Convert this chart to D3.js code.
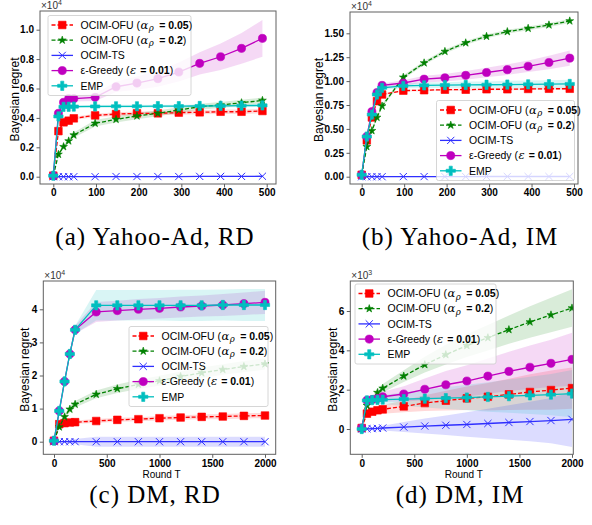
<!DOCTYPE html>
<html>
<head>
<meta charset="utf-8">
<script src="https://cdn.jsdelivr.net/npm/d3@7"></script>
<style>
body { margin: 0; background: #fff; }
text { font-family: "Liberation Sans", Arial, sans-serif; }
</style>
</head>
<body>
<script>
// marker x positions (rounds)
var xShort = [0, 12, 24, 36, 48, 98, 147, 196, 245, 294, 343, 392, 441, 490];
var xLong = [0, 50, 100, 150, 200, 400, 600, 800, 1000, 1200, 1400, 1600, 1800, 2000];

// (a) Yahoo-Ad, RD  (x1e4)
var aOfu05 = [0.007, 0.31, 0.37, 0.381, 0.397, 0.417, 0.426, 0.431, 0.431, 0.436, 0.438, 0.442, 0.442, 0.447];
var aOfu2 = [0.007, 0.152, 0.204, 0.243, 0.283, 0.363, 0.39, 0.413, 0.431, 0.453, 0.476, 0.488, 0.503, 0.519];
var aTs = [0.0, 0.0, 0.0, 0.0, 0.0, 0.0, 0.001, 0.001, 0.001, 0.001, 0.002, 0.002, 0.002, 0.003];
var aGreedy = [0.007, 0.431, 0.506, 0.531, 0.531, 0.54, 0.612, 0.637, 0.667, 0.712, 0.771, 0.816, 0.873, 0.941];
var aEmp = [0.007, 0.41, 0.475, 0.476, 0.477, 0.478, 0.479, 0.479, 0.48, 0.48, 0.481, 0.482, 0.483, 0.485];
var aOfu05Sd = [0, 0.01, 0.01, 0.01, 0.01, 0.012, 0.012, 0.013, 0.013, 0.014, 0.014, 0.015, 0.015, 0.015];
var aOfu2Sd = [0, 0.01, 0.012, 0.015, 0.018, 0.022, 0.022, 0.022, 0.02, 0.02, 0.02, 0.02, 0.02, 0.02];
var aTsSd = [0, 0.001, 0.001, 0.001, 0.002, 0.002, 0.002, 0.003, 0.003, 0.003, 0.003, 0.004, 0.004, 0.004];
var aGreedySd = [0, 0.01, 0.015, 0.02, 0.02, 0.025, 0.035, 0.045, 0.055, 0.065, 0.075, 0.09, 0.105, 0.125];
var aEmpSd = [0, 0.01, 0.01, 0.01, 0.01, 0.01, 0.01, 0.01, 0.01, 0.01, 0.01, 0.01, 0.01, 0.01];

// (b) Yahoo-Ad, IM  (x1e4)
var bOfu05 = [0.02, 0.38, 0.62, 0.79, 0.86, 0.90, 0.905, 0.91, 0.91, 0.915, 0.915, 0.918, 0.92, 0.92];
var bOfu2 = [0.02, 0.314, 0.481, 0.62, 0.739, 1.04, 1.19, 1.31, 1.40, 1.468, 1.517, 1.552, 1.587, 1.629];
var bTs = [0.0, 0.0, 0.0, 0.0, 0.0, 0.001, 0.001, 0.001, 0.001, 0.002, 0.002, 0.002, 0.002, 0.002];
var bGreedy = [0.02, 0.42, 0.68, 0.88, 0.955, 0.98, 1.02, 1.035, 1.06, 1.09, 1.12, 1.155, 1.195, 1.24];
var bEmp = [0.02, 0.42, 0.65, 0.86, 0.93, 0.95, 0.955, 0.958, 0.96, 0.962, 0.964, 0.966, 0.968, 0.97];
var bOfu05Sd = [0, 0.01, 0.01, 0.01, 0.01, 0.01, 0.01, 0.01, 0.01, 0.01, 0.01, 0.01, 0.01, 0.01];
var bOfu2Sd = [0, 0.01, 0.012, 0.015, 0.018, 0.02, 0.02, 0.02, 0.02, 0.02, 0.02, 0.02, 0.02, 0.02];
var bTsSd = [0, 0.001, 0.001, 0.001, 0.001, 0.002, 0.002, 0.002, 0.002, 0.002, 0.002, 0.002, 0.002, 0.002];
var bGreedySd = [0, 0.01, 0.015, 0.02, 0.02, 0.03, 0.035, 0.04, 0.045, 0.05, 0.055, 0.06, 0.07, 0.08];
var bEmpSd = [0, 0.01, 0.01, 0.015, 0.02, 0.025, 0.03, 0.03, 0.035, 0.035, 0.04, 0.04, 0.04, 0.045];

// (c) DM, RD  (x1e4)
var cOfu05 = [0.03, 0.53, 0.56, 0.58, 0.59, 0.625, 0.66, 0.68, 0.71, 0.73, 0.75, 0.76, 0.78, 0.79];
var cOfu2 = [0.03, 0.443, 0.75, 0.98, 1.13, 1.43, 1.6, 1.73, 1.84, 1.97, 2.08, 2.18, 2.27, 2.35];
var cTs = [0.0, 0.0, 0.0, 0.0, 0.0, 0.0, 0.0, 0.0, 0.0, 0.0, 0.0, 0.0, 0.0, 0.0];
var cGreedy = [0.03, 0.93, 1.82, 2.65, 3.38, 3.92, 3.96, 4.0, 4.03, 4.07, 4.1, 4.13, 4.17, 4.21];
var cEmp = [0.03, 0.93, 1.82, 2.65, 3.38, 4.12, 4.12, 4.12, 4.12, 4.12, 4.12, 4.13, 4.13, 4.13];
var cOfu05Sd = [0, 0.03, 0.04, 0.05, 0.05, 0.06, 0.06, 0.06, 0.07, 0.07, 0.07, 0.08, 0.08, 0.08];
var cOfu2Sd = [0, 0.05, 0.08, 0.1, 0.1, 0.12, 0.13, 0.14, 0.15, 0.15, 0.16, 0.16, 0.17, 0.17];
var cTsSd = [0, 0.02, 0.04, 0.06, 0.08, 0.15, 0.15, 0.15, 0.15, 0.15, 0.15, 0.15, 0.15, 0.15];
var cGreedySd = [0, 0.05, 0.08, 0.1, 0.12, 0.3, 0.3, 0.31, 0.31, 0.32, 0.32, 0.33, 0.34, 0.35];
var cEmpSd = [0, 0.05, 0.08, 0.1, 0.12, 0.46, 0.46, 0.46, 0.46, 0.47, 0.47, 0.47, 0.48, 0.48];

// (d) DM, IM  (x1e3)
var dOfu05 = [0.05, 0.78, 0.88, 0.95, 1.0, 1.15, 1.32, 1.44, 1.56, 1.64, 1.76, 1.88, 1.98, 2.08];
var dOfu2 = [0.05, 1.2, 1.5, 1.85, 2.07, 2.69, 3.27, 3.78, 4.24, 4.64, 5.05, 5.44, 5.8, 6.15];
var dTs = [0.0, 0.01, 0.02, 0.03, 0.05, 0.1, 0.15, 0.19, 0.23, 0.28, 0.33, 0.38, 0.43, 0.49];
var dGreedy = [0.05, 1.46, 1.5, 1.55, 1.64, 1.78, 2.02, 2.25, 2.44, 2.69, 2.93, 3.14, 3.34, 3.54];
var dEmp = [0.0, 1.45, 1.47, 1.48, 1.49, 1.52, 1.54, 1.57, 1.6, 1.63, 1.67, 1.71, 1.75, 1.8];
var dOfu05Sd = [0, 0.1, 0.15, 0.2, 0.22, 0.3, 0.4, 0.5, 0.6, 0.7, 0.8, 0.9, 1.0, 1.05];
var dOfu2Sd = [0, 0.1, 0.15, 0.2, 0.22, 0.3, 0.4, 0.5, 0.58, 0.65, 0.72, 0.8, 0.88, 0.95];
var dTsSd = [0, 0.05, 0.08, 0.1, 0.12, 0.25, 0.38, 0.5, 0.62, 0.75, 0.88, 1.0, 1.15, 1.4];
var dGreedySd = [0, 0.1, 0.15, 0.2, 0.25, 0.4, 0.55, 0.7, 0.8, 0.9, 1.0, 1.1, 1.2, 1.35];
var dEmpSd = [0, 0.1, 0.15, 0.2, 0.22, 0.35, 0.45, 0.55, 0.65, 0.75, 0.85, 0.95, 1.05, 1.2];

// tick labels
var xTicksShort = [0, 100, 200, 300, 400, 500];
var xTicksLong = [0, 500, 1000, 1500, 2000];
var aYTicks = [0, 0.2, 0.4, 0.6, 0.8, 1.0];
var bYTicks = [0, 0.25, 0.5, 0.75, 1.0, 1.25, 1.5];
var cYTicks = [0, 1, 2, 3, 4];
var dYTicks = [0, 2, 4, 6];

var seriesNames = ['OCIM-OFU', 'OCIM-OFU', 'OCIM-TS', '\u03b5-Greedy', 'EMP'];
var captions = ['(a) Yahoo-Ad, RD', '(b) Yahoo-Ad, IM', '(c) DM, RD', '(d) DM, IM'];

var styles = [
    { color: '#ff0000', dash: '4,2', marker: 'square' },
    { color: '#008000', dash: '4,2', marker: 'star' },
    { color: '#2f2fff', dash: null, marker: 'x' },
    { color: '#bf00bf', dash: null, marker: 'circle' },
    { color: '#00bfbf', dash: null, marker: 'plus' }
];

var panels = [
    { x: xShort, series: [aOfu05, aOfu2, aTs, aGreedy, aEmp], sd: [aOfu05Sd, aOfu2Sd, aTsSd, aGreedySd, aEmpSd],
      frame: [40, 276, 11, 184], xmap: [0, 500, 53.3, 266.7], ymap: [0, 1, 176.7, 29.7],
      xticks: xTicksShort, yticks: aYTicks, yfmt: '.1f', exp: '4', xlabel: false,
      ylabelX: 15, legend: [48, 15.5, 143, 80], caption: [155, 245] },
    { x: xShort, series: [bOfu05, bOfu2, bTs, bGreedy, bEmp], sd: [bOfu05Sd, bOfu2Sd, bTsSd, bGreedySd, bEmpSd],
      frame: [350, 578, 12, 184], xmap: [0, 500, 361.7, 574], ymap: [0, 1.5, 176.7, 33.3],
      xticks: xTicksShort, yticks: bYTicks, yfmt: '.2f', exp: '4', xlabel: false,
      ylabelX: 319, legend: [436.5, 100.5, 138, 80], caption: [460, 245] },
    { x: xLong, series: [cOfu05, cOfu2, cTs, cGreedy, cEmp], sd: [cOfu05Sd, cOfu2Sd, cTsSd, cGreedySd, cEmpSd],
      frame: [43.3, 275.7, 281, 454.3], xmap: [0, 2000, 54, 265], ymap: [0, 4, 441.7, 309.3],
      xticks: xTicksLong, yticks: cYTicks, yfmt: 'd', exp: '4', xlabel: true,
      ylabelX: 25, legend: [129, 326.5, 139, 80], caption: [155, 503] },
    { x: xLong, series: [dOfu05, dOfu2, dTs, dGreedy, dEmp], sd: [dOfu05Sd, dOfu2Sd, dTsSd, dGreedySd, dEmpSd],
      frame: [350.3, 573.3, 281, 454.3], xmap: [0, 2000, 361.7, 572], ymap: [0, 6, 429, 311],
      xticks: xTicksLong, yticks: dYTicks, yfmt: 'd', exp: '3', xlabel: true,
      ylabelX: 333, legend: [355, 284, 141, 80], caption: [460, 503] }
];

function markerPath(kind) {
    if (kind === 'square') return d3.symbol(d3.symbolSquare, 58)();
    if (kind === 'star') return d3.symbol(d3.symbolStar, 19)();
    if (kind === 'circle') return d3.symbol(d3.symbolCircle, 52)();
    if (kind === 'plus') return d3.symbol(d3.symbolCross, 48)();
    var s = 3.6;
    return 'M' + (-s) + ',' + (-s) + 'L' + s + ',' + s + 'M' + (-s) + ',' + s + 'L' + s + ',' + (-s);
}

function drawMarker(g, kind, color, x, y) {
    var m = g.append('path').attr('d', markerPath(kind))
        .attr('transform', 'translate(' + x + ',' + y + ')');
    if (kind === 'x') m.attr('fill', 'none').attr('stroke', color).attr('stroke-width', 1);
    else m.attr('fill', color).attr('stroke', color).attr('stroke-width', 0.6);
}

var svg = d3.select('body').append('svg')
    .attr('width', 592).attr('height', 525)
    .style('display', 'block');

panels.forEach(function(p, pi) {
    var fx0 = p.frame[0], fx1 = p.frame[1], fy0 = p.frame[2], fy1 = p.frame[3];
    var x = d3.scaleLinear().domain([p.xmap[0], p.xmap[1]]).range([p.xmap[2], p.xmap[3]]);
    var y = d3.scaleLinear().domain([p.ymap[0], p.ymap[1]]).range([p.ymap[2], p.ymap[3]]);

    var clipId = 'clip' + pi;
    svg.append('clipPath').attr('id', clipId).append('rect')
        .attr('x', fx0).attr('y', fy0).attr('width', fx1 - fx0).attr('height', fy1 - fy0);

    var plot = svg.append('g').attr('clip-path', 'url(#' + clipId + ')');

    // bands first (matplotlib puts collections under lines)
    p.series.forEach(function(vals, si) {
        var sd = p.sd[si];
        var area = d3.area()
            .x(function(d, i) { return x(p.x[i]); })
            .y0(function(d, i) { return y(vals[i] - sd[i]); })
            .y1(function(d, i) { return y(vals[i] + sd[i]); });
        plot.append('path').datum(vals).attr('d', area)
            .attr('fill', styles[si].color).attr('fill-opacity', si === 2 ? 0.17 : 0.15);
    });

    p.series.forEach(function(vals, si) {
        var st = styles[si];
        var line = d3.line().x(function(d, i) { return x(p.x[i]); }).y(function(d) { return y(d); });
        var path = plot.append('path').datum(vals).attr('d', line)
            .attr('fill', 'none').attr('stroke', st.color).attr('stroke-width', 1.3);
        if (st.dash) path.attr('stroke-dasharray', st.dash);
        var mg = plot.append('g');
        vals.forEach(function(v, i) { drawMarker(mg, st.marker, st.color, x(p.x[i]), y(v)); });
    });

    // frame
    svg.append('rect').attr('x', fx0).attr('y', fy0)
        .attr('width', fx1 - fx0).attr('height', fy1 - fy0)
        .attr('fill', 'none').attr('stroke', '#606060').attr('stroke-width', 1);

    // axes
    var xAxis = d3.axisBottom(x).tickValues(p.xticks).tickSize(3.5).tickPadding(1.8).tickFormat(d3.format('d'));
    var gx = svg.append('g').attr('transform', 'translate(0,' + fy1 + ')').call(xAxis);
    var yAxis = d3.axisLeft(y).tickValues(p.yticks).tickSize(3.5).tickPadding(2.5).tickFormat(d3.format(p.yfmt));
    var gy = svg.append('g').attr('transform', 'translate(' + fx0 + ',0)').call(yAxis);
    [gx, gy].forEach(function(g) {
        g.select('.domain').remove();
        g.selectAll('line').attr('stroke', '#606060');
        g.selectAll('text').attr('fill', '#000').style('font-size', '10px').style('font-weight', 'bold')
            .style('font-family', '"Liberation Sans", Arial, sans-serif');
    });

    // exponent label
    var ex = svg.append('text').attr('x', fx0 + 1).attr('y', fy0 - 2.5)
        .style('font-size', '10px').attr('fill', '#333');
    ex.append('tspan').text('\u00d710');
    ex.append('tspan').attr('dy', -4).style('font-size', '7px').text(p.exp);

    // y label
    var ymid = (fy0 + fy1) / 2 + 2;
    svg.append('text').attr('transform', 'translate(' + p.ylabelX + ',' + ymid + ') rotate(-90)')
        .attr('text-anchor', 'middle').attr('dy', '0.35em').style('font-size', '12px').text('Bayesian regret');

    if (p.xlabel) {
        svg.append('text').attr('x', (fx0 + fx1) / 2 + 2).attr('y', fy1 + 23.5)
            .attr('text-anchor', 'middle').style('font-size', '10px').text('Round T');
    }

    // legend
    var L = p.legend;
    var lg = svg.append('g');
    lg.append('rect').attr('x', L[0]).attr('y', L[1]).attr('width', L[2]).attr('height', L[3])
        .attr('rx', 2).attr('fill', '#fff').attr('fill-opacity', 0.8)
        .attr('stroke', '#cccccc').attr('stroke-width', 0.8);
    var params = [['\u03b1', '\u03c1', '0.05'], ['\u03b1', '\u03c1', '0.2'], null, ['\u03b5', null, '0.01'], null];
    seriesNames.forEach(function(name, si) {
        var st = styles[si];
        var ly = L[1] + 9.5 + si * 15.2;
        var hx0 = L[0] + 3.5, hx1 = L[0] + 25;
        var hl = lg.append('line').attr('x1', hx0).attr('x2', hx1).attr('y1', ly).attr('y2', ly)
            .attr('stroke', st.color).attr('stroke-width', 1.3);
        if (st.dash) hl.attr('stroke-dasharray', st.dash);
        drawMarker(lg, st.marker, st.color, (hx0 + hx1) / 2, ly);
        var t = lg.append('text').attr('x', L[0] + 32.5).attr('y', ly).attr('dy', '0.36em')
            .style('font-size', '10.5px').attr('fill', '#000');
        t.append('tspan').text(name);
        var pr = params[si];
        if (pr) {
            t.append('tspan').text(' (');
            t.append('tspan').attr('dx', 0.5).style('font-family', '"DejaVu Serif", serif')
                .style('font-style', 'italic').style('font-size', '11.5px').text(pr[0]);
            if (pr[1]) {
                t.append('tspan').attr('dy', 2.5).attr('dx', 0.5).style('font-size', '8.5px')
                    .style('font-family', '"DejaVu Serif", serif').style('font-style', 'italic').text(pr[1]);
                t.append('tspan').attr('dy', -2.5).attr('dx', 2.5).style('font-weight', 'bold').text(' = ' + pr[2]);
            } else {
                t.append('tspan').attr('dx', 1).style('font-weight', 'bold').text(' = ' + pr[2]);
            }
            t.append('tspan').text(')');
        }
    });

    svg.append('text').attr('x', p.caption[0]).attr('y', p.caption[1])
        .attr('text-anchor', 'middle').style('font-family', '"Liberation Serif", "Times New Roman", serif')
        .style('font-size', '25px').style('letter-spacing', '1px').text(captions[pi]);
});
</script>
</body>
</html>
